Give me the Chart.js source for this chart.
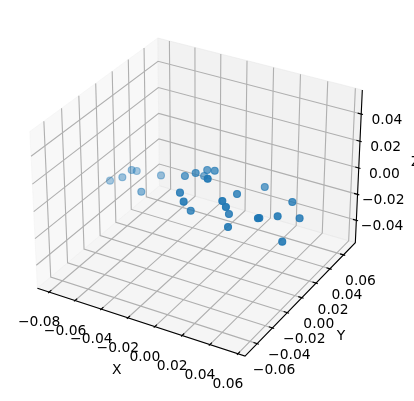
<!DOCTYPE html>
<html>
<head>
<meta charset="utf-8">
<style>html,body{margin:0;padding:0;background:#fff;overflow:hidden}canvas{display:block}</style>
<script src="https://cdn.jsdelivr.net/npm/chart.js@4/dist/chart.umd.min.js"></script>
</head>
<body>
<canvas id="c" width="414" height="401"></canvas>
<script>
const xValues = [-.0873,-.0772,-.0730,-.0733,-.0551,-.0570,-.0248,-.0160,-.0204,-.0132,-.0057,.0076,-.0118,-.0051,-.0062,.0191,.0220,.0186,.0232,.0168,.0220,.0487,.0419,.0412,.0487,.0582,.0552];
const yValues = [.0111,.0108,.0160,.0228,.0242,.0021,.0044,.0032,.0217,.0133,.0100,-.0223,-.0238,-.0306,-.0199,-.0238,-.0243,-.0142,-.0235,-.0006,.0272,.0148,-.0168,-.0173,-.0050,.0070,-.0104];
const zValues = [-.0198,-.0142,-.0100,-.0142,-.0131,-.0151,.0047,.0100,-.0025,.0081,.0113,.0251,.0102,.0090,-.0034,.0130,.0098,-.0015,-.0048,.0058,-.0014,.0014,.0039,.0037,.0010,-.0038,-.0128];
const xTicks = [-.08,-.06,-.04,-.02,0,.02,.04,.06];
const yTicks = [-.06,-.04,-.02,0,.02,.04,.06];
const zTicks = [-.04,-.02,0,.02,.04];
const xTickLabels = ['−0.08','−0.06','−0.04','−0.02','0.00','0.02','0.04','0.06'];
const yTickLabels = ['−0.06','−0.04','−0.02','0.00','0.02','0.04','0.06'];
const zTickLabels = ['−0.04','−0.02','0.00','0.02','0.04'];
const xLim = [-.0892,.065], yLim = [-.0755,.0778], zLim = [-.0575,.0575];

const BOX = [1.1905,1.1905,.8929];
const U = [.8660,.5,0], V = [-.25,.4330,.8660], W = [.4330,-.75,.5];
const dot = (a,b)=>a[0]*b[0]+a[1]*b[1]+a[2]*b[2];
function centred(x,y,z){
  return [
    ((x-xLim[0])/(xLim[1]-xLim[0])-.5)*BOX[0],
    ((y-yLim[0])/(yLim[1]-yLim[0])-.5)*BOX[1],
    ((z-zLim[0])/(zLim[1]-zLim[0])-.5)*BOX[2]];
}
function depth(x,y,z){ return dot(centred(x,y,z),W); }
function proj(x,y,z){
  const p = centred(x,y,z), d = 10-dot(p,W);
  return {x:dot(p,U)/d, y:dot(p,V)/d};
}
const lineDs = (pts,color,width,order,extra)=>Object.assign({
  type:'scatter', showLine:true, data:pts.map(p=>proj(p[0],p[1],p[2])),
  borderColor:color, borderWidth:width, pointRadius:0, pointHoverRadius:0,
  tension:0, fill:false, order:order }, extra||{});

const [x0,x1]=xLim,[y0,y1]=yLim,[z0,z1]=zLim;
const dx=(x1-x0)/12, dy=(y1-y0)/12;
const tickIn=.2, tickOut=.1;
const ds=[];
ds.push(lineDs([[x0,y0,z0],[x0,y1,z0],[x0,y1,z1],[x0,y0,z1],[x0,y0,z0]],'rgba(242,242,242,.5)',1,100,{fill:'shape',backgroundColor:'rgba(242,242,242,.5)'}));
ds.push(lineDs([[x0,y1,z0],[x1,y1,z0],[x1,y1,z1],[x0,y1,z1],[x0,y1,z0]],'rgba(230,230,230,.5)',1,100,{fill:'shape',backgroundColor:'rgba(230,230,230,.5)'}));
ds.push(lineDs([[x0,y0,z0],[x1,y0,z0],[x1,y1,z0],[x0,y1,z0],[x0,y0,z0]],'rgba(236,236,236,.5)',1,100,{fill:'shape',backgroundColor:'rgba(236,236,236,.5)'}));
const GRID='#b0b0b0', GW=1.11;
xTicks.forEach(t=>{
  ds.push(lineDs([[t,y0,z0],[t,y1,z0],[t,y1,z1]],GRID,GW,50));
  ds.push(lineDs([[t,y0-tickOut*dy,z0],[t,y0+tickIn*dy,z0]],'#000',GW,20));
});
yTicks.forEach(t=>{
  ds.push(lineDs([[x1,t,z0],[x0,t,z0],[x0,t,z1]],GRID,GW,50));
  ds.push(lineDs([[x1+tickOut*dx,t,z0],[x1-tickIn*dx,t,z0]],'#000',GW,20));
});
zTicks.forEach(t=>{
  ds.push(lineDs([[x0,y0,t],[x0,y1,t],[x1,y1,t]],GRID,GW,50));
  ds.push(lineDs([[x1+tickOut*dx,y1,t],[x1-tickIn*dx,y1,t]],'#000',GW,20));
});
ds.push(lineDs([[x0,y0,z0],[x1,y0,z0],[x1,y1,z0],[x1,y1,z1]],'#000',GW,10));

const idx = xValues.map((_,i)=>i).sort((a,b)=>depth(xValues[a],yValues[a],zValues[a])-depth(xValues[b],yValues[b],zValues[b]));
const shade = i=>{
  const a=.3+.7*Math.min(1,Math.max(0,(depth(xValues[i],yValues[i],zValues[i])+.5)/.9));
  return 'rgba(31,119,180,'+a.toFixed(3)+')';
};
ds.push({type:'scatter',data:idx.map(i=>proj(xValues[i],yValues[i],zValues[i])),
  backgroundColor:idx.map(shade),borderColor:idx.map(shade),borderWidth:1.1,pointRadius:3.5,pointHoverRadius:3.5,order:1});

const FONT='13.89px "DejaVu Sans"';
const tickText={id:'tickText',afterDatasetsDraw(chart){
  const c=chart.ctx, sx=chart.scales.x, sy=chart.scales.y;
  const put=(pt,ox,oy,s)=>c.fillText(s,sx.getPixelForValue(pt.x)+ox,sy.getPixelForValue(pt.y)+oy);
  c.save(); c.font=FONT; c.fillStyle='#000'; c.textAlign='center'; c.textBaseline='middle';
  xTicks.forEach((t,i)=>put(proj(t,y0,z0),-10,30.7,xTickLabels[i]));
  yTicks.forEach((t,i)=>put(proj(x1,t,z0),17,27,yTickLabels[i]));
  zTicks.forEach((t,i)=>put(proj(x1,y1,t),25.7,6,zTickLabels[i]));
  c.fillText('X',116.7,370.3);
  c.fillText('Y',341,336.3);
  c.fillText('Z',415.8,162);
  c.restore();
}};
new Chart(document.getElementById('c'),{
  type:'scatter',
  data:{datasets:ds},
  options:{
    responsive:false,animation:false,
    layout:{padding:0,autoPadding:false},
    events:[],
    plugins:{legend:{display:false},tooltip:{enabled:false}},
    scales:{
      x:{type:'linear',display:false,min:-.09975,max:.10746},
      y:{type:'linear',display:false,min:-.1058,max:.0947}
    }
  },
  plugins:[tickText]
});
</script>
</body>
</html>
